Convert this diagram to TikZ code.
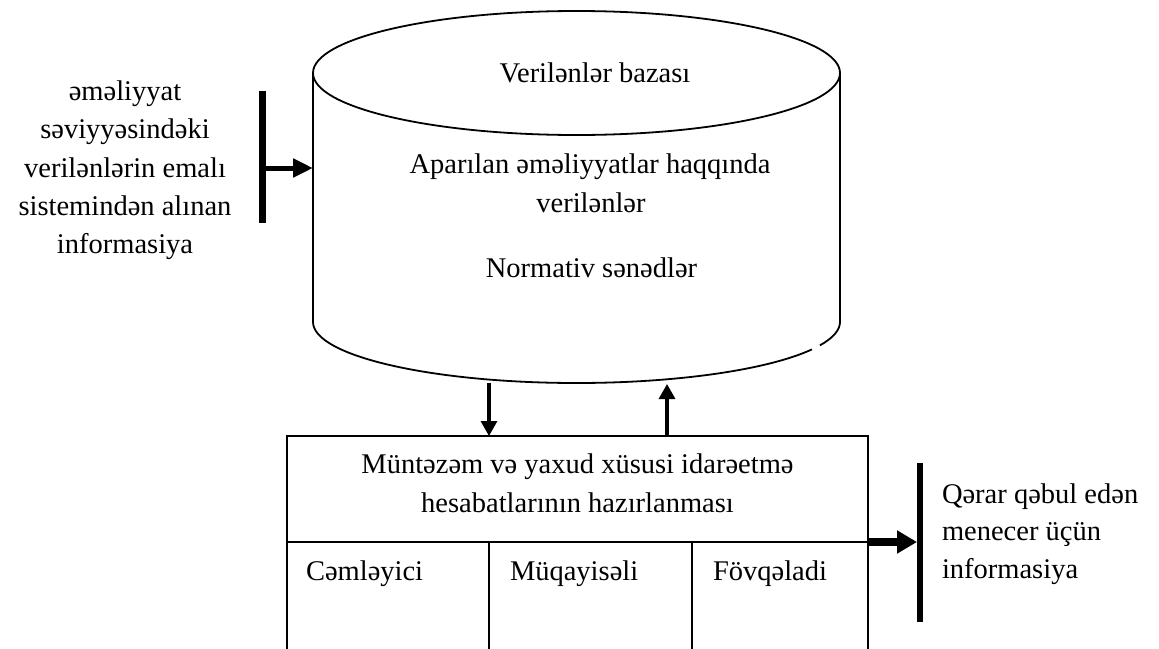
\documentclass[tikz,border=0pt]{standalone}
\usepackage{fontspec}
\setmainfont{Liberation Serif}
\usetikzlibrary{arrows.meta}
\begin{document}
\begin{tikzpicture}[x=1pt,y=-1pt,
  txt/.style={font=\fontsize{28.5}{38}\selectfont, inner sep=0pt, outer sep=0pt},
  ln/.style={line width=1.8pt},
  cell/.style={draw, line width=1.8pt, inner sep=0pt, outer sep=0pt},
  bar/.style={fill=black, inner sep=0pt, outer sep=0pt},
  smallarr/.style={line width=3.2pt, -{Triangle[length=15pt,width=16pt]}},
  inarr/.style={line width=5pt, -{Triangle[length=20pt,width=18pt]}},
  outarr/.style={line width=8pt, -{Triangle[length=20pt,width=22pt]}}]
\useasboundingbox (0,0) rectangle (1159,648);
\begin{scope}
\clip (0,0) rectangle (1159,648);
% database cylinder
\draw[ln] (576.5,73) ellipse [x radius=263.5pt, y radius=62pt];
\draw[ln] (313,73) -- (313,322) arc[start angle=180, end angle=333.3, x radius=263.5pt, y radius=61pt];
\draw[ln] (840,73) -- (840,322) arc[start angle=0, end angle=-22.5, x radius=263.5pt, y radius=61pt];
\coordinate (dbleft) at (313,168);
\coordinate (dbout) at (489,383);
\coordinate (dbin) at (667,384);
\node[txt, anchor=base] (t1) at (595,82) {Verilənlər bazası};
\node[txt, anchor=base] (t2) at (590,173) {Aparılan əməliyyatlar haqqında};
\node[txt, anchor=base] (t3) at (591,212) {verilənlər};
\node[txt, anchor=base] (t4) at (591.5,277) {Normativ sənədlər};
% left input
\node[txt, anchor=base] (l1) at (125,100) {əməliyyat};
\node[txt, anchor=base] (l2) at (125,138) {səviyyəsindəki};
\node[txt, anchor=base] (l3) at (125,177) {verilənlərin emalı};
\node[txt, anchor=base] (l4) at (125,215) {sistemindən alınan};
\node[txt, anchor=base] (l5) at (125,253) {informasiya};
\node[bar, minimum width=7pt, minimum height=132pt] (lbar) at (262,157) {};
\draw[inarr] (lbar.center |- dbleft) -- (dbleft);
% report box
\node[cell, minimum width=581pt, minimum height=106pt] (hdr) at (577.5,489) {};
\node[cell, minimum width=202pt, minimum height=118pt] (c1) at (388,601) {};
\node[cell, minimum width=203pt, minimum height=118pt] (c2) at (590.5,601) {};
\node[cell, minimum width=176pt, minimum height=118pt] (c3) at (780,601) {};
\node[txt, anchor=base] (h1) at (577.5,473) {Müntəzəm və yaxud xüsusi idarəetmə};
\node[txt, anchor=base] (h2) at (577.5,512) {hesabatlarının hazırlanması};
\node[txt, anchor=base west] (k1) at (306,580) {Cəmləyici};
\node[txt, anchor=base west] (k2) at (510,580) {Müqayisəli};
\node[txt, anchor=base west] (k3) at (713,580) {Fövqəladi};
% arrows between
\draw[smallarr] (dbout) -- (dbout |- hdr.north);
\draw[smallarr] (dbin |- hdr.north) -- (dbin);
% right output
\node[bar, minimum width=6pt, minimum height=159pt] (rbar) at (920,542.5) {};
\draw[outarr] (hdr.south east) -- (rbar.west |- hdr.south east);
\node[txt, anchor=base west] (r1) at (942,503) {Qərar qəbul edən};
\node[txt, anchor=base west] (r2) at (942,540) {menecer üçün};
\node[txt, anchor=base west] (r3) at (942,578) {informasiya};
\end{scope}
\end{tikzpicture}
\end{document}
